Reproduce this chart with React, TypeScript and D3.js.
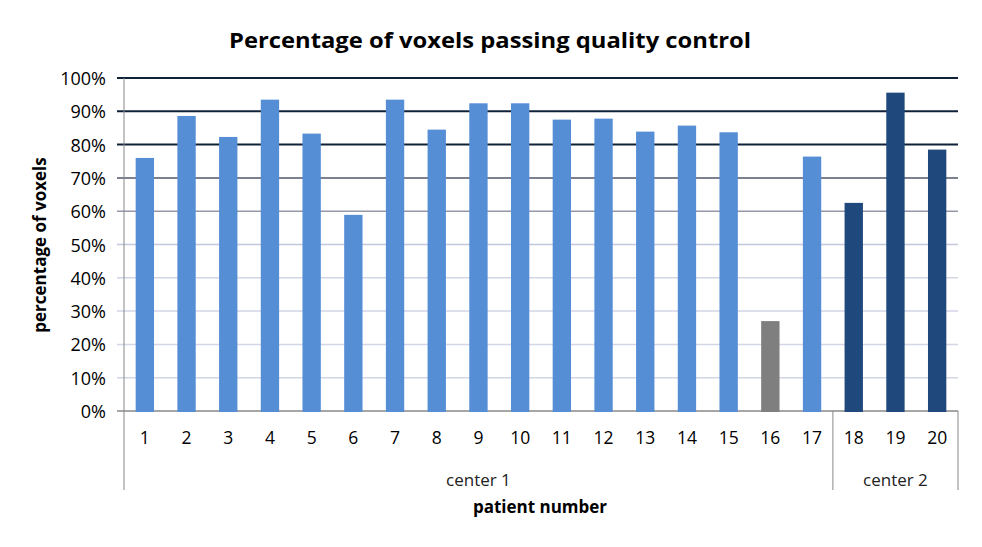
import React from "react";
import * as d3 from "d3";

const categories = ["1","2","3","4","5","6","7","8","9","10","11","12","13","14","15","16","17","18","19","20"];
const values = [76.0, 88.6, 82.3, 93.5, 83.3, 58.9, 93.5, 84.5, 92.4, 92.4, 87.5, 87.8, 83.9, 85.7, 83.7, 27.0, 76.4, 62.5, 95.6, 78.5];
const barKinds = ["a","a","a","a","a","a","a","a","a","a","a","a","a","a","a","b","a","c","c","c"];
const groups = [{ name: "center 1", from: 0, to: 17 }, { name: "center 2", from: 17, to: 20 }];
const yTicks = [0, 10, 20, 30, 40, 50, 60, 70, 80, 90, 100];
const gridColors = ["#888888", "#d2d6e6", "#d2d6e6", "#d2d6e6", "#d2d6e6", "#c4c8dc", "#9498a8", "#50566a", "#0f2238", "#0f2238", "#0f2238"];
const kindColor: Record<string, string> = { a: "#568ed6", b: "#7f7f7f", c: "#1f487c" };

const W = 982, H = 547;
const left = 124, right = 958, top = 78, bottom = 411, groupBottom = 490;

export default function App() {
  const x = d3.scaleBand().domain(categories).range([left, right]).paddingInner(0.56).paddingOuter(0.28);
  const y = d3.scaleLinear().domain([0, 100]).range([bottom, top]);
  const step = (right - left) / categories.length;
  const font = "Open Sans, sans-serif";
  return (
    <svg width={W} height={H} style={{ position: "absolute", left: 0, top: 0, background: "#fff" }}>
      <text x={490} y={48} textAnchor="middle" fontFamily={font} fontWeight="bold" fontSize={22} fill="#000" textLength={522} lengthAdjust="spacingAndGlyphs">Percentage of voxels passing quality control</text>
      {yTicks.map((t, i) => (
        <g key={t}>
          <line x1={117} x2={right} y1={y(t)} y2={y(t)} stroke={gridColors[i]} strokeWidth={i >= 8 ? 2 : 1.5} />
          <text x={106} y={y(t) + 7} textAnchor="end" fontFamily={font} fontSize={18} fill="#000">{t}%</text>
        </g>
      ))}
      {categories.map((c, i) => (
        <rect key={c} x={x(c)} y={y(values[i])} width={x.bandwidth()} height={bottom - y(values[i]) + 1} fill={kindColor[barKinds[i]]} />
      ))}
      <line x1={left} x2={left} y1={top} y2={groupBottom} stroke="#888" strokeWidth={1} />
      {groups.map((g) => (
        <g key={g.name}>
          <line x1={left + g.to * step} x2={left + g.to * step} y1={bottom} y2={groupBottom} stroke="#888" strokeWidth={1} />
          <text x={left + ((g.from + g.to) / 2) * step} y={486} textAnchor="middle" fontFamily={font} fontSize={17} fill="#222">{g.name}</text>
        </g>
      ))}
      {categories.map((c) => (
        <text key={c} x={(x(c) as number) + x.bandwidth() / 2} y={444} textAnchor="middle" fontFamily={font} fontSize={17.5} fill="#000">{c}</text>
      ))}
      <text transform={`translate(46, ${245}) rotate(-90)`} textAnchor="middle" fontFamily={font} fontWeight="bold" fontSize={17} fill="#000">percentage of voxels</text>
      <text x={540} y={513} textAnchor="middle" fontFamily={font} fontWeight="bold" fontSize={17} fill="#000">patient number</text>
    </svg>
  );
}
